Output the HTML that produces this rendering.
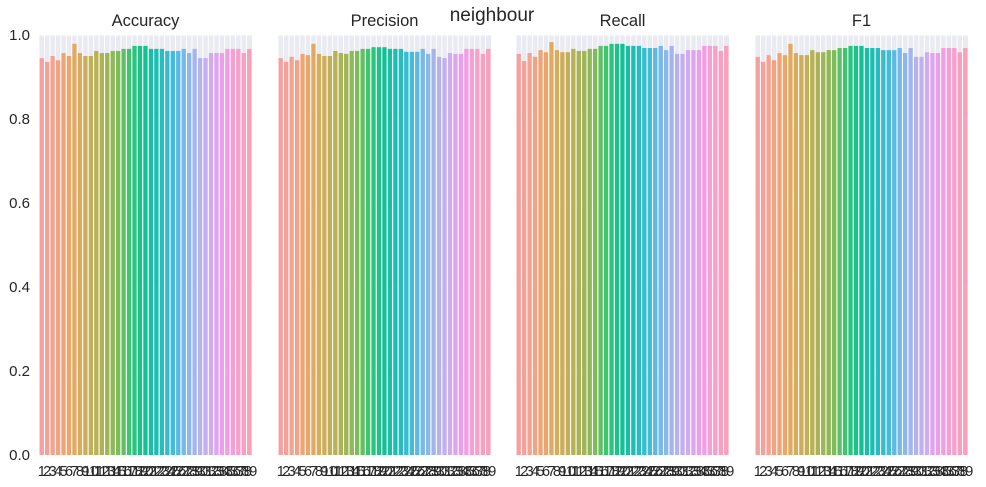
<!DOCTYPE html>
<html><head><meta charset="utf-8"><style>
html,body{margin:0;padding:0;background:#fff;}
svg{display:block;font-family:"Liberation Sans","DejaVu Sans",sans-serif;}
</style></head><body>
<svg id="chart" width="986" height="487" viewBox="0 0 986 487" xmlns="http://www.w3.org/2000/svg">
<text x="492" y="21" font-size="19" text-anchor="middle" fill="#262626">neighbour</text>
</svg>
<script>
const categories = Array.from({length:39},(_,i)=>String(i+1));
const accuracy = [0.945,0.936,0.950,0.940,0.957,0.950,0.979,0.957,0.950,0.950,0.962,0.957,0.957,0.962,0.962,0.967,0.967,0.974,0.974,0.974,0.967,0.967,0.967,0.962,0.962,0.962,0.967,0.957,0.967,0.945,0.945,0.957,0.957,0.957,0.967,0.967,0.967,0.957,0.967];
const precision = [0.945,0.936,0.948,0.940,0.955,0.952,0.979,0.955,0.950,0.950,0.962,0.957,0.955,0.962,0.962,0.967,0.967,0.971,0.971,0.971,0.967,0.967,0.967,0.960,0.960,0.960,0.967,0.955,0.967,0.948,0.945,0.957,0.955,0.955,0.967,0.967,0.967,0.955,0.967];
const recall = [0.955,0.938,0.957,0.948,0.964,0.959,0.983,0.964,0.959,0.959,0.967,0.962,0.962,0.967,0.967,0.974,0.974,0.979,0.979,0.979,0.974,0.974,0.974,0.969,0.969,0.969,0.974,0.964,0.974,0.955,0.955,0.964,0.964,0.964,0.974,0.974,0.974,0.962,0.974];
const f1 = [0.948,0.936,0.952,0.940,0.957,0.952,0.979,0.957,0.952,0.952,0.964,0.959,0.959,0.964,0.964,0.969,0.969,0.974,0.974,0.974,0.969,0.969,0.969,0.964,0.964,0.964,0.969,0.957,0.969,0.948,0.948,0.959,0.957,0.957,0.969,0.969,0.969,0.959,0.969];
const titles = ["Accuracy","Precision","Recall","F1"];
const yTicks = ["0.0","0.2","0.4","0.6","0.8","1.0"];

const anchors = [[246,160,160],[245,162,140],[238,165,105],[215,172,90],[190,176,85],[160,182,85],[120,190,90],[40,200,120],[20,192,150],[30,190,185],[60,188,215],[120,185,235],[175,180,238],[205,172,240],[240,155,235],[248,160,205],[250,160,185]];
function color(i,n){const t=i/(n-1)*(anchors.length-1);const k=Math.min(Math.floor(t),anchors.length-2);const f=t-k;const a=anchors[k],b=anchors[k+1];return `rgb(${a.map((v,j)=>Math.round(v+(b[j]-v)*f)).join(',')})`;}

const NS="http://www.w3.org/2000/svg";
const svg=document.getElementById('chart');
function mk(tag,attrs,parent){const e=document.createElementNS(NS,tag);for(const k in attrs)e.setAttribute(k,attrs[k]);(parent||svg).appendChild(e);return e;}
const axLefts=[39,278,516,755], axW=213, plotTop=35, plotBottom=455;
const series=[accuracy,precision,recall,f1];
const yScale=v=>plotBottom-(v/1.0)*(plotBottom-plotTop);
series.forEach((vals,s)=>{
  const L=axLefts[s];
  const g=mk('g',{});
  
  
  const bg=mk('rect',{x:L,y:plotTop,width:axW,height:plotBottom-plotTop,fill:'#eaeaf2'},g);
  
  
  yTicks.forEach(t=>{const y=yScale(parseFloat(t));
    const gl=mk('line',{x1:L,x2:L+axW,y1:y,y2:y,stroke:'#fff','stroke-width':1},g);
    
    
    if(s===0){const tx=mk('text',{x:L-9,y:y+5,'font-size':15,'text-anchor':'end',fill:'#262626'},g);tx.textContent=t;
      
      }
  });
  const slot=axW/vals.length;
  vals.forEach((v,i)=>{
    const x=L+slot*i;
    const gap=mk('rect',{x:x-0.5,y:plotTop,width:1,height:plotBottom-plotTop,fill:'#ffffff'},g);
    
    
    const r=mk('rect',{x:x+slot*0.1,y:yScale(v),width:slot*0.8,height:plotBottom-yScale(v),fill:color(i,vals.length)},g);
    
    
    const tl=mk('text',{x:L+slot*(i+0.5),y:476,'font-size':14.5,'text-anchor':'middle',fill:'#262626'},g);
    tl.textContent=categories[i];
    
    
  });
  const t=mk('text',{x:L+axW/2,y:26,'font-size':16.5,'text-anchor':'middle',fill:'#262626'},g);
  t.textContent=titles[s];
  
  
});
</script>
</body></html>
